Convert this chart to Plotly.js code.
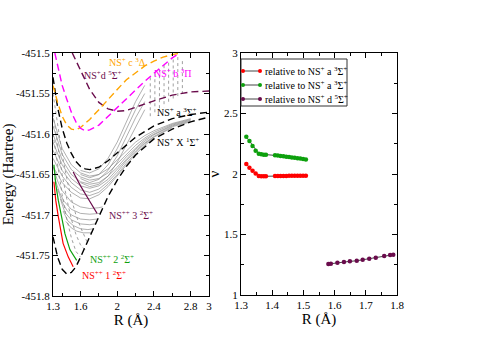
<!DOCTYPE html>
<html>
<head>
<meta charset="utf-8">
<script src="https://cdn.plot.ly/plotly-3.0.1.min.js"></script>
<style>html,body{margin:0;padding:0;background:#fff}#chart{width:478px;height:338px}</style>
</head>
<body>
<div id="chart"></div>
<script>
// ---------- left panel: potential curves, R (Angstrom) vs E (Hartree)
var xR = [1.3, 1.35, 1.4, 1.45, 1.5, 1.55, 1.6, 1.7, 1.8, 1.9, 2.0, 2.1, 2.2, 2.4, 2.6, 2.8, 3.0];
var xE = [-451.727, -451.752, -451.767, -451.773, -451.771, -451.764, -451.752, -451.727, -451.701, -451.677, -451.657, -451.640, -451.626, -451.606, -451.594, -451.585, -451.579];

var aR = [1.3, 1.325, 1.35, 1.4, 1.45, 1.5, 1.55, 1.6, 1.65, 1.7, 1.8, 1.9, 2.0, 2.1, 2.2, 2.4, 2.6, 2.8, 3.0];
var aE = [-451.53, -451.55, -451.567, -451.593, -451.611, -451.624, -451.634, -451.64, -451.643, -451.644, -451.641, -451.633, -451.623, -451.613, -451.604, -451.59, -451.581, -451.576, -451.573];

var dR = [1.51, 1.6, 1.7, 1.8, 1.9, 2.0, 2.1, 2.2, 2.3, 2.4, 2.6, 2.8, 3.0];
var dE = [-451.5, -451.522, -451.545, -451.561, -451.569, -451.572, -451.571, -451.567, -451.563, -451.559, -451.552, -451.548, -451.547];

var cR = [1.3, 1.35, 1.4, 1.45, 1.5, 1.55, 1.6, 1.7, 1.8, 1.9, 2.0, 2.1, 2.2, 2.3, 2.4, 2.5, 2.6, 2.7];
var cE = [-451.54, -451.561, -451.578, -451.589, -451.594, -451.595, -451.592, -451.582, -451.57, -451.557, -451.545, -451.533, -451.524, -451.516, -451.51, -451.505, -451.502, -451.5];

var bR = [1.32, 1.35, 1.4, 1.45, 1.5, 1.55, 1.6, 1.65, 1.7, 1.8, 1.9, 2.0, 2.1, 2.2, 2.3, 2.4, 2.5, 2.6, 2.68];
var bE = [-451.5, -451.515, -451.54, -451.557, -451.573, -451.585, -451.593, -451.596, -451.595, -451.589, -451.578, -451.567, -451.556, -451.546, -451.535, -451.525, -451.515, -451.506, -451.5];

// dication states (solid)
var ion1R = [1.31, 1.33, 1.358, 1.41, 1.467, 1.52];
var ion1E = [-451.659, -451.682, -451.702, -451.735, -451.752, -451.764];
var ion2R = [1.31, 1.33, 1.358, 1.43, 1.485, 1.558];
var ion2E = [-451.638, -451.662, -451.682, -451.723, -451.743, -451.756];
var ion3R = [1.52, 1.6, 1.7, 1.78];
var ion3E = [-451.647, -451.664, -451.683, -451.698];

// grey resonance curves
var bandR = [1.3, 1.4, 1.5, 1.6, 1.7, 1.8, 1.9, 2.0, 2.1, 2.2, 2.3, 2.4, 2.6, 2.8];
var band1 = [-451.58, -451.618, -451.638, -451.648, -451.652, -451.65, -451.643, -451.632, -451.62, -451.61, -451.602, -451.596, -451.587, -451.581];
var band2 = [-451.59, -451.625, -451.644, -451.653, -451.657, -451.655, -451.648, -451.637, -451.625, -451.614, -451.605, -451.598, -451.588, -451.582];
var band3 = [-451.6, -451.632, -451.65, -451.659, -451.662, -451.66, -451.652, -451.641, -451.628, -451.617, -451.607, -451.6, -451.589, -451.583];
var band4 = [-451.61, -451.638, -451.655, -451.664, -451.667, -451.664, -451.656, -451.644, -451.631, -451.619, -451.609, -451.601, -451.59, -451.584];
var band5 = [-451.62, -451.645, -451.66, -451.669, -451.672, -451.668, -451.659, -451.647, -451.633, -451.621, -451.611, -451.603, -451.591, -451.585];
var band6 = [-451.63, -451.652, -451.666, -451.674, -451.676, -451.672, -451.662, -451.65, -451.636, -451.623, -451.612, -451.604, -451.592];
var band7 = [-451.64, -451.66, -451.672, -451.679, -451.68, -451.675, -451.665, -451.652, -451.638, -451.625, -451.614, -451.605];
var bandCurves = [band1, band2, band3, band4, band5, band6, band7];

var steepR = [1.6, 1.7, 1.8, 1.9, 2.0, 2.1, 2.2, 2.3];
var steep1 = [-451.645, -451.648, -451.643, -451.63, -451.61, -451.585, -451.56, -451.54];
var steep2 = [-451.65, -451.654, -451.65, -451.638, -451.618, -451.594, -451.57, -451.55];
var steep3 = [-451.655, -451.66, -451.656, -451.645, -451.627, -451.604, -451.58, -451.56];
var steep4 = [-451.66, -451.665, -451.662, -451.652, -451.635, -451.613, -451.59, -451.57];
var steepCurves = [steep1, steep2, steep3, steep4];

var bowlRs = [
  [1.3, 1.35, 1.4, 1.5, 1.6, 1.7, 1.8, 1.84],
  [1.32, 1.37, 1.42, 1.5, 1.6, 1.7, 1.81],
  [1.35, 1.4, 1.45, 1.5, 1.6, 1.7, 1.78],
  [1.38, 1.43, 1.5, 1.6, 1.7, 1.76],
  [1.41, 1.46, 1.52, 1.6, 1.68, 1.74],
  [1.44, 1.5, 1.56, 1.63, 1.72]
];
var bowlEs = [
  [-451.64, -451.658, -451.67, -451.684, -451.69, -451.692, -451.691, -451.69],
  [-451.655, -451.672, -451.683, -451.693, -451.698, -451.699, -451.698],
  [-451.668, -451.684, -451.694, -451.7, -451.705, -451.706, -451.705],
  [-451.68, -451.697, -451.706, -451.711, -451.712, -451.711],
  [-451.695, -451.707, -451.713, -451.717, -451.718, -451.717],
  [-451.708, -451.716, -451.72, -451.722, -451.722]
];

var dotRs = [
  [1.3, 1.35, 1.4, 1.45, 1.5, 1.55, 1.6],
  [1.3, 1.35, 1.4, 1.45, 1.5, 1.55, 1.6, 1.65],
  [1.3, 1.35, 1.4, 1.45, 1.5, 1.55, 1.6, 1.67]
];
var dotEs = [
  [-451.6, -451.64, -451.675, -451.705, -451.728, -451.745, -451.752],
  [-451.575, -451.615, -451.65, -451.68, -451.705, -451.724, -451.737, -451.743],
  [-451.55, -451.59, -451.625, -451.655, -451.68, -451.7, -451.715, -451.733]
];

var colR = [2.36, 2.41, 2.46, 2.51, 2.56, 2.61, 2.66, 2.71];
var colTop = [-451.53, -451.525, -451.52, -451.515, -451.512, -451.508, -451.505, -451.51];
var colBottom = [-451.578, -451.576, -451.572, -451.567, -451.562, -451.558, -451.555, -451.55];

var leftXTicks = [1.3, 1.6, 2, 2.4, 2.8, 3];
var leftXLabels = ['1.3', '1.6', '2', '2.4', '2.8', '3'];
var leftYTicks = [-451.8, -451.75, -451.7, -451.65, -451.6, -451.55, -451.5];
var leftYLabels = ['-451.8', '-451.75', '-451.7', '-451.65', '-451.6', '-451.55', '-451.5'];

// ---------- right panel: nu vs R
var relAR = [1.317, 1.327, 1.337, 1.347, 1.357, 1.365, 1.373, 1.38, 1.409, 1.418, 1.427, 1.436, 1.445, 1.454, 1.463, 1.472, 1.481, 1.49, 1.499, 1.508];
var relAV = [2.083, 2.052, 2.027, 2.005, 1.983, 1.981, 1.981, 1.981, 1.983, 1.983, 1.984, 1.984, 1.984, 1.985, 1.985, 1.985, 1.986, 1.986, 1.986, 1.986];
var relBV = [2.308, 2.273, 2.231, 2.193, 2.168, 2.163, 2.16, 2.16, 2.154, 2.152, 2.149, 2.146, 2.143, 2.14, 2.137, 2.134, 2.131, 2.128, 2.124, 2.119];
var relDR = [1.58, 1.588, 1.609, 1.63, 1.649, 1.671, 1.69, 1.711, 1.732, 1.759, 1.778, 1.788];
var relDV = [1.256, 1.259, 1.267, 1.273, 1.278, 1.283, 1.292, 1.3, 1.308, 1.322, 1.331, 1.333];
var legendNames = [
  'relative to NS<sup>+</sup> a <sup>3</sup>Σ<sup>+</sup>',
  'relative to NS<sup>+</sup> a <sup>3</sup>Σ<sup>+</sup>',
  'relative to NS<sup>+</sup> d <sup>5</sup>Σ<sup>+</sup>'
];

var RED = '#ff0000', GREEN = '#0da00d', MAROON = '#6a0c4c', ORANGE = '#ffa500', MAGENTA = '#ff00ff', GREY = '#7a7a7a';
var FONT = 'Liberation Serif, Times New Roman, serif';
var W = 478, H = 338;
function px(x) { return x / W; }
function py(y) { return 1 - y / H; }

var data = [];
function line(x, y, color, width, dash, xa, ya) {
  data.push({x: x, y: y, mode: 'lines', xaxis: xa || 'x', yaxis: ya || 'y', hoverinfo: 'skip',
             line: {color: color, width: width, dash: dash || 'solid'}});
}

bandCurves.forEach(function(e) { line(bandR.slice(0, e.length), e, GREY, 0.6); });
steepCurves.forEach(function(e) { line(steepR, e, GREY, 0.6); });
bowlEs.forEach(function(e, i) { line(bowlRs[i], e, GREY, 0.6); });
dotEs.forEach(function(e, i) { line(dotRs[i], e, '#888', 0.8, 'dot'); });
colR.forEach(function(r, i) { line([r, r], [colTop[i], colBottom[i]], '#888', 0.8, 'dot'); });

var DASH = '7px,4px';
line(xR, xE, '#000', 1.4, DASH);
line(aR, aE, '#000', 1.4, DASH);
line(dR, dE, MAROON, 1.4, DASH);
line(cR, cE, ORANGE, 1.4, DASH);
line(bR, bE, MAGENTA, 1.4, DASH);
line(ion1R, ion1E, RED, 1.2);
line(ion2R, ion2E, GREEN, 1.2);
line(ion3R, ion3E, MAROON, 1.2);

function marked(x, y, color) {
  data.push({x: x, y: y, mode: 'lines+markers', xaxis: 'x2', yaxis: 'y2', hoverinfo: 'skip',
             line: {color: '#444', width: 1}, marker: {color: color, size: 4.5}});
}
marked(relAR, relAV, RED);
marked(relAR, relBV, GREEN);
marked(relDR, relDV, MAROON);

function axis(extra) {
  var base = {ticks: 'inside', ticklen: 5, tickcolor: '#000', showline: true, linecolor: '#000',
              linewidth: 1, mirror: 'allticks', showgrid: false, zeroline: false,
              tickfont: {family: FONT, size: 11, color: '#000'}, fixedrange: true};
  for (var k in extra) base[k] = extra[k];
  return base;
}
function minor(vals) { return {tickvals: vals, ticks: 'inside', ticklen: 3, tickcolor: '#000'}; }
var titleFont = {family: FONT, size: 15, color: '#000'};

var labels = [
  {x: 1.888, y: -451.511, text: 'NS<sup>+</sup> c <sup>3</sup>Δ', color: ORANGE},
  {x: 1.616, y: -451.527, text: 'NS<sup>+</sup>d <sup>5</sup>Σ<sup>+</sup>', color: MAROON},
  {x: 2.379, y: -451.525, text: 'NS<sup>+</sup> b <sup>3</sup>Π', color: MAGENTA},
  {x: 2.41, y: -451.573, text: 'NS<sup>+</sup> a <sup>3</sup>Σ<sup>+</sup>', color: '#000'},
  {x: 2.41, y: -451.61, text: 'NS<sup>+</sup> X <sup>1</sup>Σ<sup>+</sup>', color: '#000'},
  {x: 1.885, y: -451.70, text: 'NS<sup>++</sup> 3 <sup>2</sup>Σ<sup>+</sup>', color: MAROON},
  {x: 1.685, y: -451.754, text: 'NS<sup>++</sup> 2 <sup>2</sup>Σ<sup>+</sup>', color: GREEN},
  {x: 1.594, y: -451.774, text: 'NS<sup>++</sup> 1 <sup>2</sup>Σ<sup>+</sup>', color: RED}
];
var annotations = labels.map(function(l) {
  return {x: l.x, y: l.y, xref: 'x', yref: 'y', text: l.text, showarrow: false, xanchor: 'left', yanchor: 'middle',
          font: {family: FONT, size: 10, color: l.color}};
});

// hand drawn legend box for the right panel
var shapes = [{type: 'rect', xref: 'paper', yref: 'paper', x0: px(241), x1: px(347), y0: py(59), y1: py(106),
               line: {color: '#333', width: 1}, fillcolor: '#fff', layer: 'above'}];
[RED, GREEN, MAROON].forEach(function(col, i) {
  var yy = 71 + i * 14;
  shapes.push({type: 'line', xref: 'paper', yref: 'paper', x0: px(243), x1: px(260), y0: py(yy), y1: py(yy),
               line: {color: '#444', width: 1}, layer: 'above'});
  [243, 260].forEach(function(cx) {
    shapes.push({type: 'circle', xref: 'paper', yref: 'paper', x0: px(cx - 2), x1: px(cx + 2), y0: py(yy + 2), y1: py(yy - 2),
                 line: {width: 0}, fillcolor: col, layer: 'above'});
  });
  annotations.push({x: px(263), y: py(yy), xref: 'paper', yref: 'paper', text: legendNames[i], showarrow: false,
                    xanchor: 'left', yanchor: 'middle', font: {family: FONT, size: 10, color: '#000'}});
});

var layout = {
  width: W, height: H, margin: {l: 0, r: 0, t: 0, b: 0}, showlegend: false,
  paper_bgcolor: '#fff', plot_bgcolor: '#fff',
  xaxis: axis({domain: [px(53), px(209)], range: [1.3, 3], tickvals: leftXTicks, ticktext: leftXLabels,
               minor: minor([1.4, 1.8, 2.2, 2.6]), anchor: 'y',
               title: {text: 'R (Å)', font: titleFont, standoff: 0}}),
  yaxis: axis({domain: [py(296), py(53)], range: [-451.8, -451.5], tickvals: leftYTicks, ticktext: leftYLabels,
               minor: minor([-451.775, -451.725, -451.675, -451.625, -451.575, -451.525]), anchor: 'x',
               title: {text: 'Energy (Hartree)', font: titleFont, standoff: 2}}),
  xaxis2: axis({domain: [px(241), px(397)], range: [1.3, 1.8], tickvals: [1.3, 1.4, 1.5, 1.6, 1.7, 1.8],
                ticktext: ['1.3', '1.4', '1.5', '1.6', '1.7', '1.8'], anchor: 'y2',
                minor: minor([1.35, 1.45, 1.55, 1.65, 1.75]),
                title: {text: 'R (Å)', font: titleFont, standoff: 0}}),
  yaxis2: axis({domain: [py(295), py(53)], range: [1, 3], tickvals: [1, 1.5, 2, 2.5, 3],
                ticktext: ['1', '1.5', '2', '2.5', '3'], anchor: 'x2',
                minor: minor([1.25, 1.75, 2.25, 2.75]),
                title: {text: 'ν', font: titleFont, standoff: 0}}),
  annotations: annotations,
  shapes: shapes
};

Plotly.newPlot('chart', data, layout, {staticPlot: true});
</script>
</body>
</html>
